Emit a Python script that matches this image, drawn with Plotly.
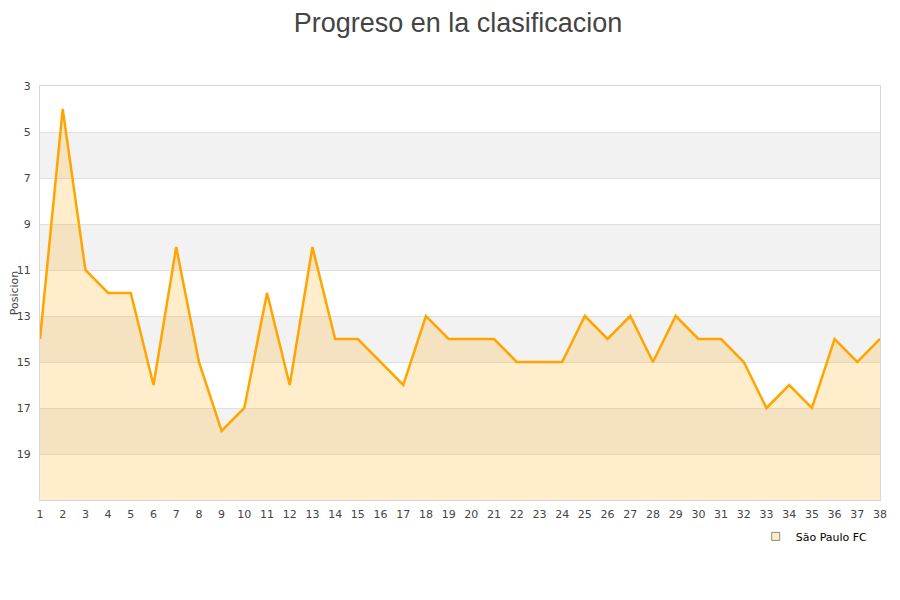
import plotly.graph_objects as go

jornadas = list(range(1, 39))
posiciones = [14, 4, 11, 12, 12, 16, 10, 15, 18, 17, 12, 16, 10, 14, 14, 15, 16, 13, 14, 14,
              14, 15, 15, 15, 13, 14, 13, 15, 13, 14, 14, 15, 17, 16, 17, 14, 15, 14]
y_ticks = [3, 5, 7, 9, 11, 13, 15, 17, 19]
y_range = [21, 3]
band_edges = [(5, 7), (9, 11), (13, 15), (17, 19)]
equipo = "São Paulo FC"
titulo = "Progreso en la clasificacion"
eje_y = "Posicion"

fig = go.Figure()
fig.add_trace(go.Scatter(x=jornadas, y=[y_range[0]] * len(jornadas), mode="lines",
                         line=dict(width=0), showlegend=False, hoverinfo="skip"))
fig.add_trace(go.Scatter(x=jornadas, y=posiciones, mode="lines", fill="tonexty",
                         fillcolor="rgba(255,165,0,0.2)",
                         line=dict(color="#FFA500", width=2.5), showlegend=False, name=equipo))
fig.add_trace(go.Scatter(x=[None], y=[None], mode="markers", name=equipo,
                         marker=dict(symbol="square", size=8, color="#FFEDCC",
                                     line=dict(color="#9a8a70", width=1))))

shapes = []
for a, b in band_edges:
    shapes.append(dict(type="rect", xref="paper", yref="y", x0=0, x1=1, y0=a, y1=b,
                       fillcolor="#F2F2F2", line=dict(width=0), layer="below"))

fig.update_layout(
    width=900, height=600,
    paper_bgcolor="white", plot_bgcolor="white",
    margin=dict(l=32, r=28, t=78, b=108),
    title=dict(text=titulo, x=0.5, xanchor="center",
               yref="container", y=1 - 15 / 600, yanchor="middle",
               font=dict(family="Liberation Sans, Arial", size=27, color="#444444")),
    font=dict(family="DejaVu Sans", size=11, color="#444444"),
    shapes=shapes,
    showlegend=True,
    legend=dict(x=0.852, y=-0.053, xanchor="left", yanchor="top", orientation="h",
                font=dict(size=11, color="#000000"), bgcolor="rgba(0,0,0,0)"),
    xaxis=dict(range=[1, 38], tickmode="array", tickvals=jornadas, showgrid=False,
               zeroline=False, showline=True, linecolor="#d8d8d8", mirror=True, ticks="",
               automargin=False, ticklabelstandoff=4, tickfont=dict(size=11, color="#444444")),
    yaxis=dict(range=y_range, tickmode="array", tickvals=y_ticks, showgrid=True,
               gridcolor="#e0e0e0", zeroline=False, showline=True, linecolor="#d8d8d8",
               mirror=True, ticks="", automargin=False, ticklabelstandoff=6,
               title=dict(text=eje_y, font=dict(size=11), standoff=4),
               tickfont=dict(size=11, color="#444444")),
)

fig.write_html("out.html")
